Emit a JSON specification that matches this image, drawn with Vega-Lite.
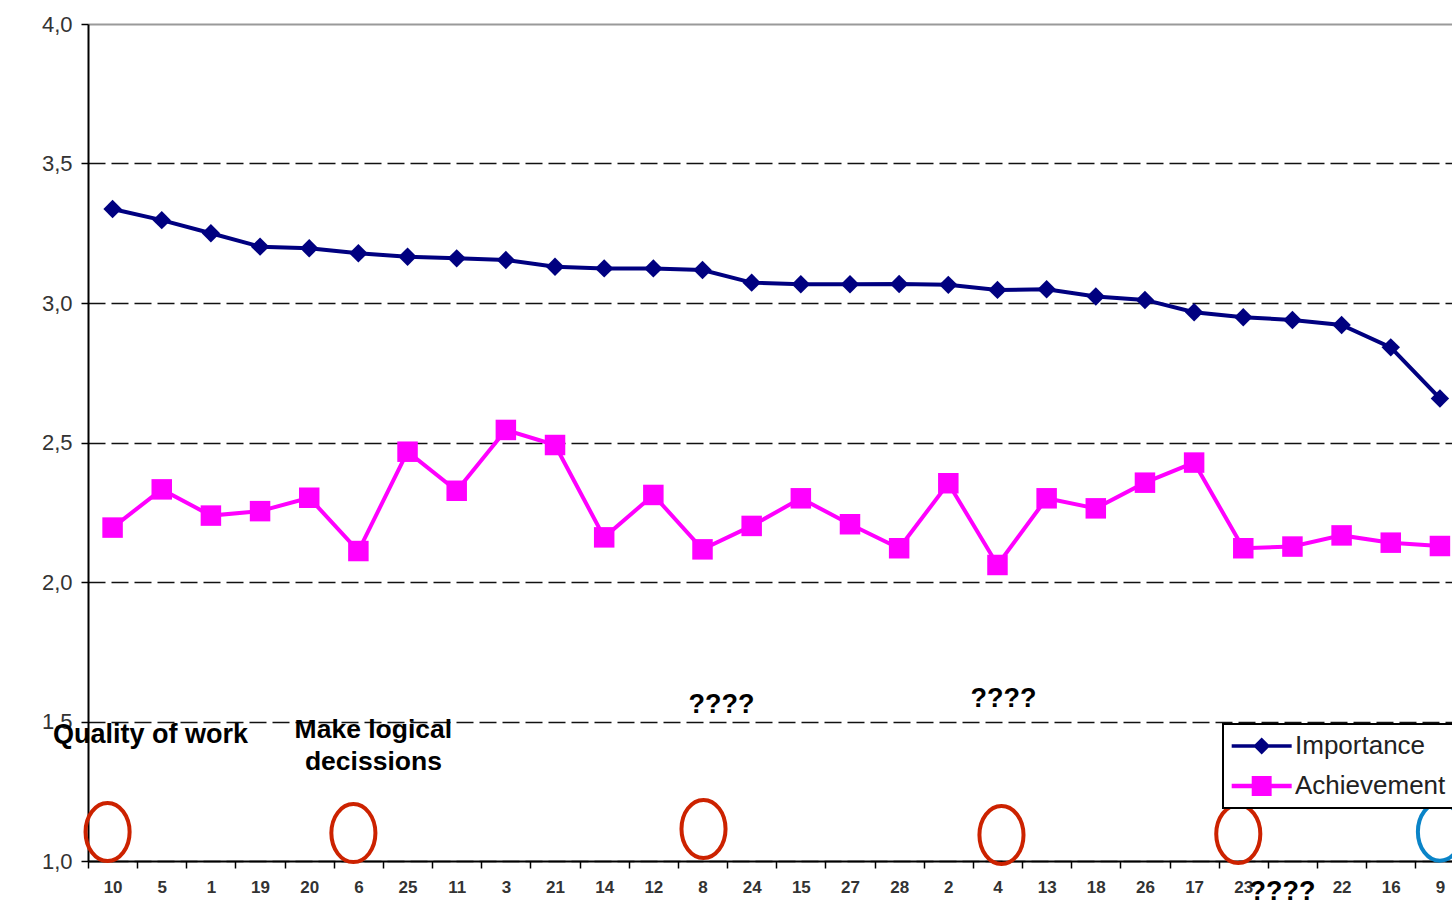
{
  "$schema": "https://vega.github.io/schema/vega-lite/v6.json",
  "autosize": "none",
  "width": 1364,
  "height": 837,
  "padding": {"left": 88, "top": 24, "right": 0, "bottom": 45},
  "background": "#ffffff",
  "config": {
    "view": {"stroke": null},
    "font": "Liberation Sans"
  },
  "datasets": {
    "main": [
      {"item": "10", "series": "Importance", "value": 3.337},
      {"item": "5", "series": "Importance", "value": 3.297},
      {"item": "1", "series": "Importance", "value": 3.250},
      {"item": "19", "series": "Importance", "value": 3.202},
      {"item": "20", "series": "Importance", "value": 3.196},
      {"item": "6", "series": "Importance", "value": 3.178},
      {"item": "25", "series": "Importance", "value": 3.166},
      {"item": "11", "series": "Importance", "value": 3.160},
      {"item": "3", "series": "Importance", "value": 3.154},
      {"item": "21", "series": "Importance", "value": 3.130},
      {"item": "14", "series": "Importance", "value": 3.124},
      {"item": "12", "series": "Importance", "value": 3.124},
      {"item": "8", "series": "Importance", "value": 3.118},
      {"item": "24", "series": "Importance", "value": 3.073},
      {"item": "15", "series": "Importance", "value": 3.067},
      {"item": "27", "series": "Importance", "value": 3.067},
      {"item": "28", "series": "Importance", "value": 3.068},
      {"item": "2", "series": "Importance", "value": 3.065},
      {"item": "4", "series": "Importance", "value": 3.047},
      {"item": "13", "series": "Importance", "value": 3.049},
      {"item": "18", "series": "Importance", "value": 3.023},
      {"item": "26", "series": "Importance", "value": 3.011},
      {"item": "17", "series": "Importance", "value": 2.967},
      {"item": "23", "series": "Importance", "value": 2.949},
      {"item": "7", "series": "Importance", "value": 2.939},
      {"item": "22", "series": "Importance", "value": 2.921},
      {"item": "16", "series": "Importance", "value": 2.841},
      {"item": "9", "series": "Importance", "value": 2.658},
      {"item": "10", "series": "Achievement", "value": 2.195},
      {"item": "5", "series": "Achievement", "value": 2.332},
      {"item": "1", "series": "Achievement", "value": 2.238},
      {"item": "19", "series": "Achievement", "value": 2.254},
      {"item": "20", "series": "Achievement", "value": 2.302},
      {"item": "6", "series": "Achievement", "value": 2.111},
      {"item": "25", "series": "Achievement", "value": 2.467},
      {"item": "11", "series": "Achievement", "value": 2.327},
      {"item": "3", "series": "Achievement", "value": 2.545},
      {"item": "21", "series": "Achievement", "value": 2.491},
      {"item": "14", "series": "Achievement", "value": 2.160},
      {"item": "12", "series": "Achievement", "value": 2.312},
      {"item": "8", "series": "Achievement", "value": 2.117},
      {"item": "24", "series": "Achievement", "value": 2.201},
      {"item": "15", "series": "Achievement", "value": 2.300},
      {"item": "27", "series": "Achievement", "value": 2.207},
      {"item": "28", "series": "Achievement", "value": 2.121},
      {"item": "2", "series": "Achievement", "value": 2.354},
      {"item": "4", "series": "Achievement", "value": 2.061},
      {"item": "13", "series": "Achievement", "value": 2.300},
      {"item": "18", "series": "Achievement", "value": 2.264},
      {"item": "26", "series": "Achievement", "value": 2.356},
      {"item": "17", "series": "Achievement", "value": 2.428},
      {"item": "23", "series": "Achievement", "value": 2.121},
      {"item": "7", "series": "Achievement", "value": 2.127},
      {"item": "22", "series": "Achievement", "value": 2.167},
      {"item": "16", "series": "Achievement", "value": 2.141},
      {"item": "9", "series": "Achievement", "value": 2.129}
    ],
    "redMarksLeft": [
      {"item": "10", "value": 1.104},
      {"item": "6", "value": 1.100},
      {"item": "23", "value": 1.097}
    ],
    "redMarksCenter": [
      {"item": "8", "value": 1.115}
    ],
    "redMarksRight": [
      {"item": "4", "value": 1.093}
    ],
    "blueMarks": [
      {"item": "9", "value": 1.105}
    ]
  },
  "encoding": {
    "x": {
      "field": "item",
      "type": "nominal",
      "scale": {
        "type": "band",
        "domain": ["10","5","1","19","20","6","25","11","3","21","14","12","8","24","15","27","28","2","4","13","18","26","17","23","7","22","16","9"],
        "range": [0, 1376.5],
        "paddingInner": 0,
        "paddingOuter": 0
      },
      "axis": {
        "title": null,
        "labelAngle": 0,
        "labelFont": "Liberation Sans",
        "labelFontSize": 17,
        "labelFontWeight": "bold",
        "labelColor": "#333333",
        "labelPadding": 11,
        "labelOverlap": false,
        "labelBound": false,
        "labelExpr": "datum.value === '7' ? '' : datum.value",
        "tickBand": "extent",
        "tickSize": 7,
        "tickColor": "#000000",
        "tickWidth": 1.5,
        "domainColor": "#000000",
        "domainWidth": 2,
        "grid": false
      }
    },
    "y": {
      "field": "value",
      "type": "quantitative",
      "scale": {"domain": [1, 4], "nice": false, "zero": false},
      "axis": {
        "title": null,
        "values": [1, 1.5, 2, 2.5, 3, 3.5, 4],
        "labelExpr": "replace(format(datum.value, '.1f'), '.', ',')",
        "labelFont": "Liberation Sans",
        "labelFontSize": 22,
        "labelColor": "#333333",
        "labelPadding": 9,
        "tickSize": 7,
        "tickColor": "#000000",
        "tickWidth": 1.5,
        "domainColor": "#000000",
        "domainWidth": 2,
        "grid": true,
        "gridColor": {"condition": {"test": "datum.value === 4", "value": "#9a9a9a"}, "value": "#111111"},
        "gridWidth": {"condition": {"test": "datum.value === 4", "value": 2}, "value": 1.5},
        "gridDash": {"condition": {"test": "datum.value === 4", "value": []}, "value": [17, 6]}
      }
    }
  },
  "layer": [
    {
      "data": {"name": "main"},
      "mark": {"type": "line", "strokeWidth": 4},
      "encoding": {
        "color": {
          "field": "series",
          "type": "nominal",
          "scale": {"domain": ["Importance", "Achievement"], "range": ["#000080", "#FF00FF"]},
          "legend": {
            "title": null,
            "orient": "none",
            "legendX": 1135,
            "legendY": 700,
            "padding": 9,
            "rowPadding": 14,
            "strokeColor": "#000000",
            "fillColor": "#ffffff",
            "cornerRadius": 0,
            "labelFont": "Liberation Sans",
            "labelFontSize": 26,
            "labelColor": "#222222",
            "labelOffset": 37,
            "labelLimit": 400,
            "symbolSize": 576,
            "encode": {
              "legend": {
                "update": {"strokeWidth": {"value": 2}}
              },
              "symbols": {
                "update": {
                  "shape": {"signal": "datum.value === 'Importance' ? 'M -1.11 -0.15 L 0.83 -0.15 L 1.39 -0.71 L 1.95 -0.15 L 3.89 -0.15 L 3.89 0.15 L 1.95 0.15 L 1.39 0.71 L 0.83 0.15 L -1.11 0.15 Z' : 'M -1.11 -0.18 L 0.56 -0.18 L 0.56 -0.83 L 2.22 -0.83 L 2.22 -0.18 L 3.89 -0.18 L 3.89 0.18 L 2.22 0.18 L 2.22 0.83 L 0.56 0.83 L 0.56 0.18 L -1.11 0.18 Z'"},
                  "fill": {"signal": "datum.value === 'Importance' ? '#000080' : '#FF00FF'"},
                  "stroke": {"value": "transparent"},
                  "strokeWidth": {"value": 0},
                  "opacity": {"value": 1},
                  "fillOpacity": {"value": 1}
                }
              }
            }
          }
        }
      }
    },
    {
      "data": {"name": "main"},
      "transform": [{"filter": "datum.series === 'Importance'"}],
      "mark": {"type": "point", "filled": true, "opacity": 1, "strokeWidth": 0, "shape": "diamond", "size": 340, "color": "#000080"}
    },
    {
      "data": {"name": "main"},
      "transform": [{"filter": "datum.series === 'Achievement'"}],
      "mark": {"type": "point", "filled": true, "opacity": 1, "strokeWidth": 0, "shape": "square", "size": 420, "color": "#FF00FF"}
    },
    {
      "data": {"name": "redMarksLeft"},
      "mark": {
        "type": "point",
        "filled": false,
        "shape": "M -0.76 0 A 0.76 1 0 1 1 0.76 0 A 0.76 1 0 1 1 -0.76 0 Z",
        "size": 3364,
        "stroke": "#CC2200",
        "strokeWidth": 4,
        "opacity": 1,
        "xOffset": -5
      }
    },
    {
      "data": {"name": "redMarksCenter"},
      "mark": {
        "type": "point",
        "filled": false,
        "shape": "M -0.76 0 A 0.76 1 0 1 1 0.76 0 A 0.76 1 0 1 1 -0.76 0 Z",
        "size": 3364,
        "stroke": "#CC2200",
        "strokeWidth": 4,
        "opacity": 1,
        "xOffset": 1
      }
    },
    {
      "data": {"name": "redMarksRight"},
      "mark": {
        "type": "point",
        "filled": false,
        "shape": "M -0.76 0 A 0.76 1 0 1 1 0.76 0 A 0.76 1 0 1 1 -0.76 0 Z",
        "size": 3364,
        "stroke": "#CC2200",
        "strokeWidth": 4,
        "opacity": 1,
        "xOffset": 4
      }
    },
    {
      "data": {"name": "blueMarks"},
      "mark": {
        "type": "point",
        "filled": false,
        "shape": "M -0.76 0 A 0.76 1 0 1 1 0.76 0 A 0.76 1 0 1 1 -0.76 0 Z",
        "size": 3364,
        "stroke": "#0A84C8",
        "strokeWidth": 4,
        "opacity": 1
      }
    },
    {
      "data": {"values": [{"item": "10", "value": 1.424, "label": "Quality of work"}]},
      "mark": {"type": "text", "font": "Liberation Sans", "fontWeight": "bold", "fontSize": 27, "color": "#000000", "align": "center", "baseline": "alphabetic", "dx": 38},
      "encoding": {"text": {"field": "label"}}
    },
    {
      "data": {"values": [{"item": "6", "value": 1.44, "label": "Make logical\ndecissions"}]},
      "mark": {"type": "text", "font": "Liberation Sans", "fontWeight": "bold", "fontSize": 26.5, "color": "#000000", "align": "center", "baseline": "alphabetic", "dx": 15, "lineBreak": "\n", "lineHeight": 31.7},
      "encoding": {"text": {"field": "label"}}
    },
    {
      "data": {"values": [{"item": "8", "value": 1.529, "label": "????"}]},
      "mark": {"type": "text", "font": "Liberation Sans", "fontWeight": "bold", "fontSize": 27, "color": "#000000", "align": "center", "baseline": "alphabetic", "dx": 19},
      "encoding": {"text": {"field": "label"}}
    },
    {
      "data": {"values": [{"item": "4", "value": 1.551, "label": "????"}]},
      "mark": {"type": "text", "font": "Liberation Sans", "fontWeight": "bold", "fontSize": 27, "color": "#000000", "align": "center", "baseline": "alphabetic", "dx": 6},
      "encoding": {"text": {"field": "label"}}
    },
    {
      "data": {"values": [{"item": "7", "value": 0.86, "label": "????"}]},
      "mark": {"type": "text", "font": "Liberation Sans", "fontWeight": "bold", "fontSize": 27, "color": "#000000", "align": "center", "baseline": "alphabetic", "dx": -10},
      "encoding": {"text": {"field": "label"}}
    }
  ]
}
